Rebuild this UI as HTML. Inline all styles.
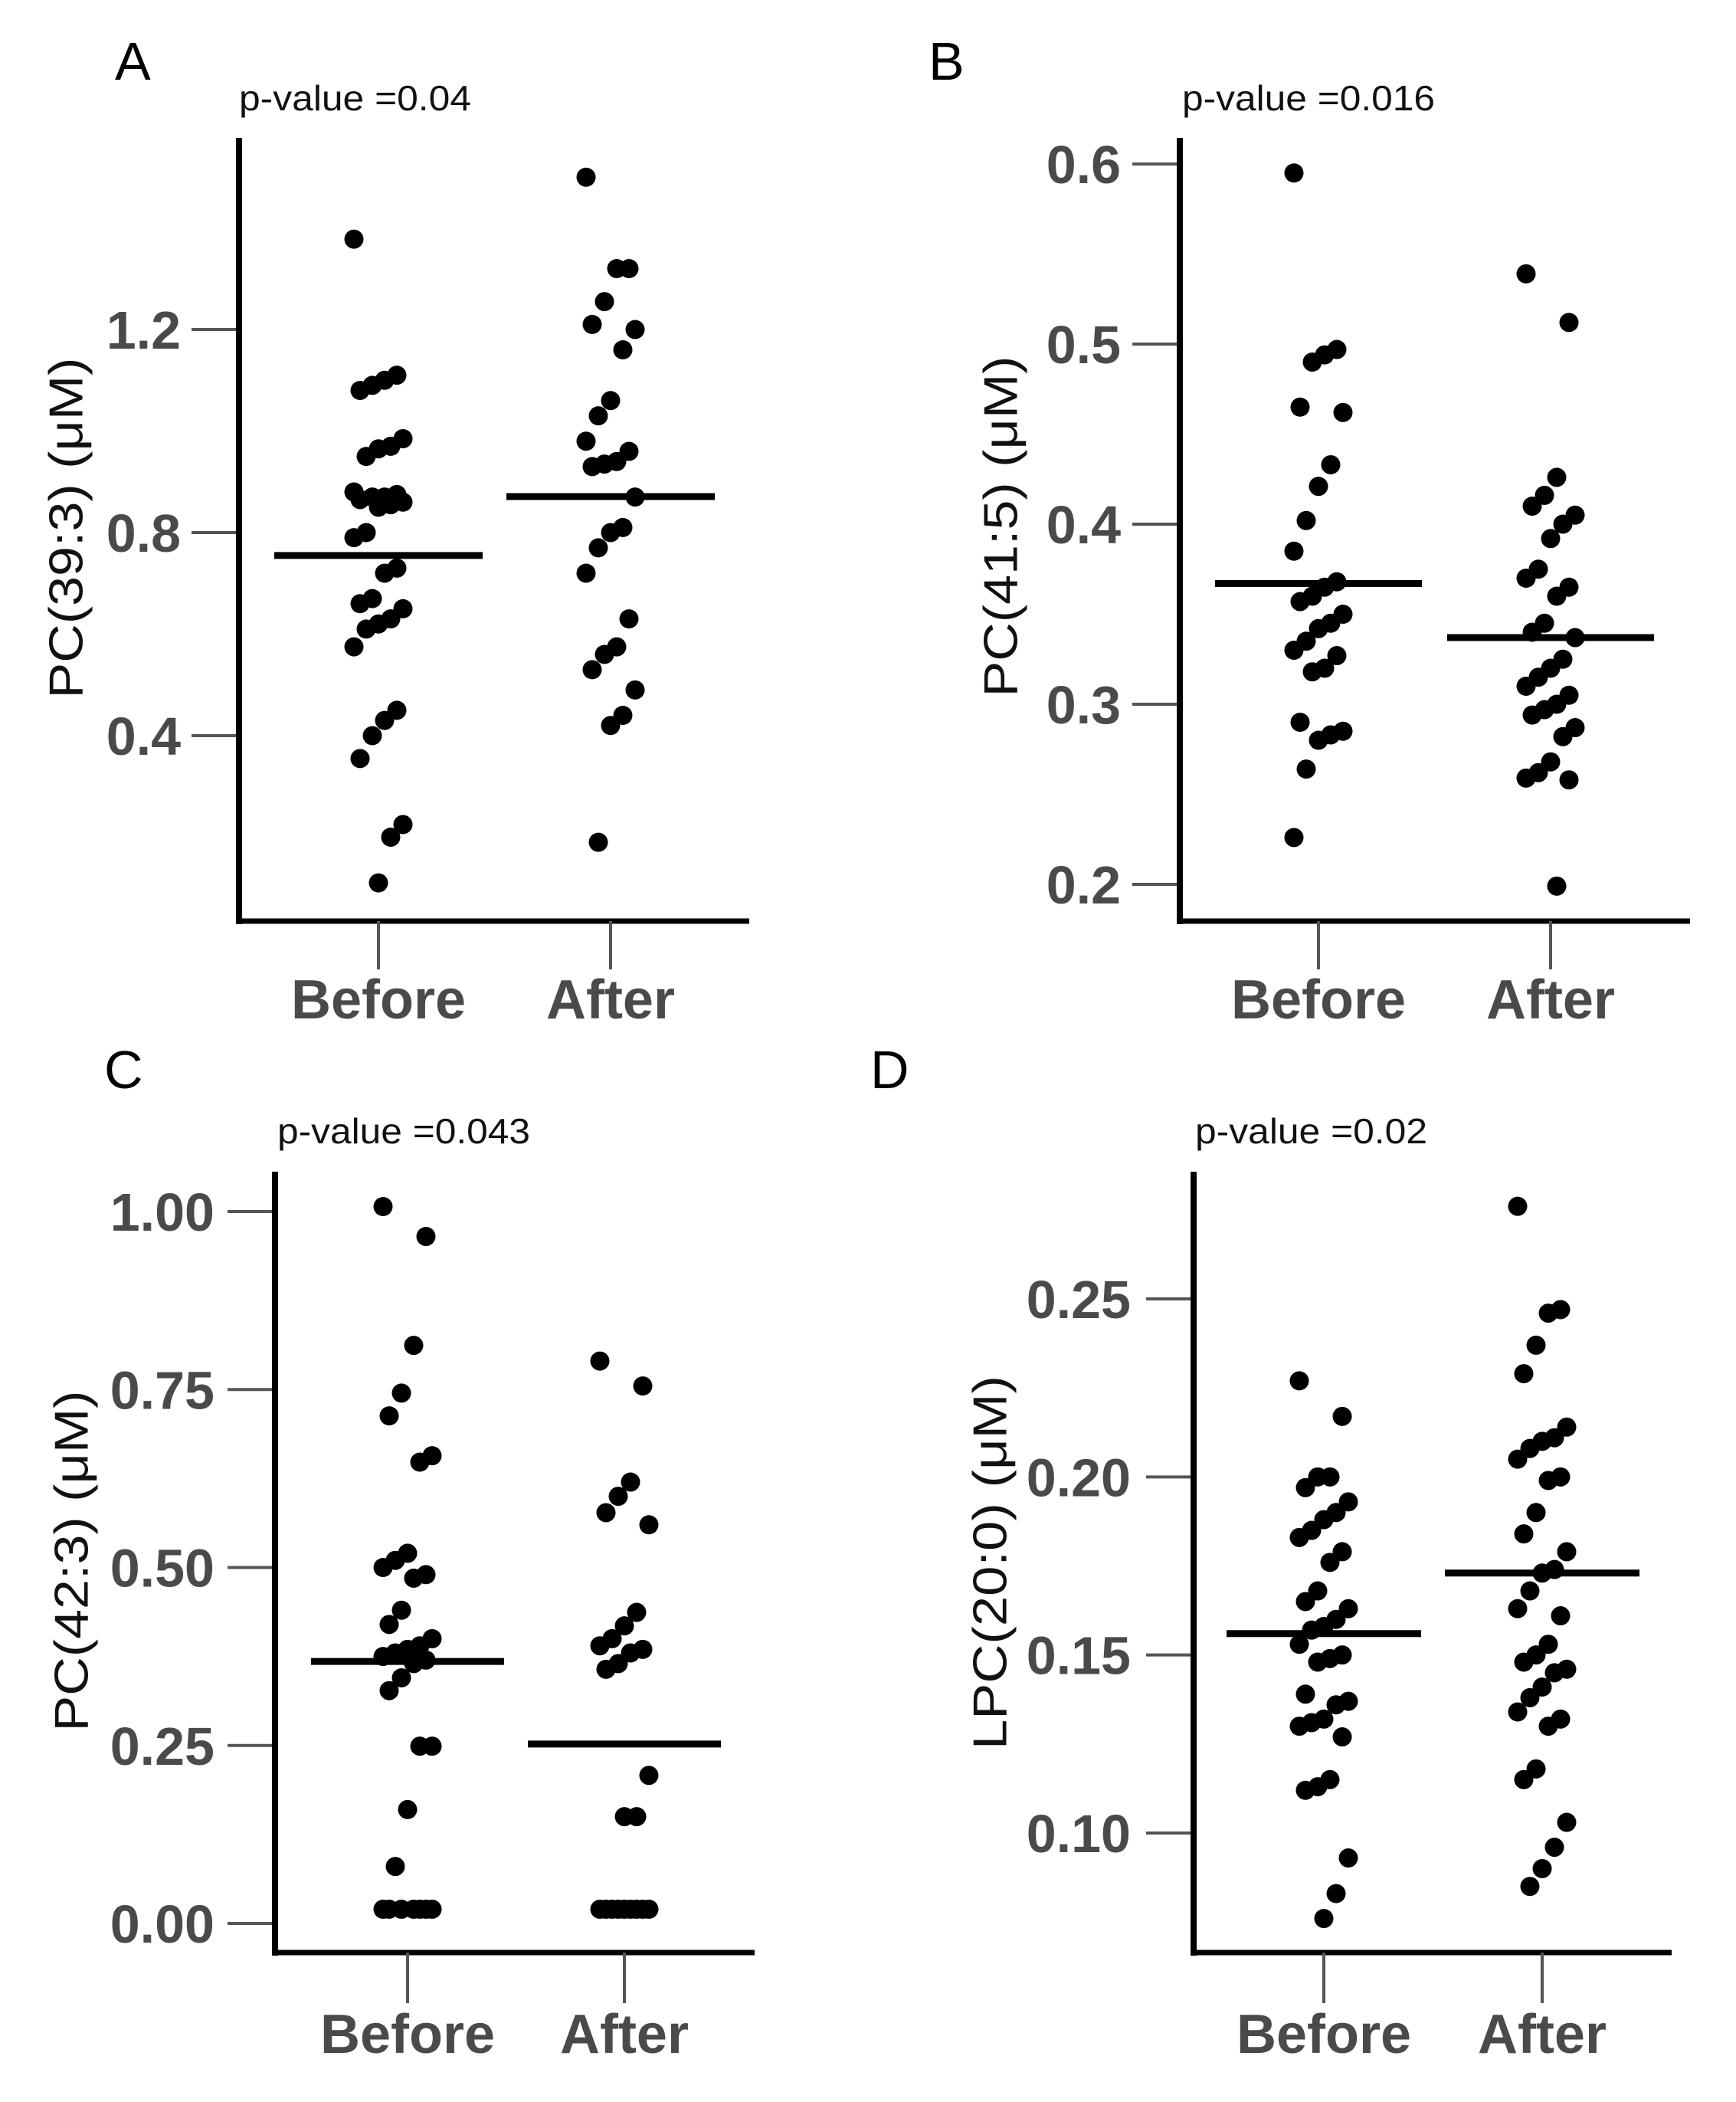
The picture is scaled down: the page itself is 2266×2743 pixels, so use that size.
<!DOCTYPE html>
<html>
<head>
<meta charset="utf-8">
<style>
  html,body{margin:0;padding:0;background:#fff;}
  svg{display:block;}
  text{font-family:"Liberation Sans",Arial,sans-serif;}
</style>
</head>
<body>
<svg id="fig" xmlns="http://www.w3.org/2000/svg" width="2266" height="2743" viewBox="0 0 2266 2743"></svg>
<script>
// ---- data ----
const categories = ["Before", "After"];
const aTicks = ["0.4", "0.8", "1.2"];
const aBefore = [1.378,1.11,1.10,1.09,1.08,0.985,0.97,0.965,0.95,0.88,0.875,0.87,0.87,0.865,0.86,0.855,0.85,0.80,0.79,0.73,0.72,0.67,0.66,0.65,0.63,0.62,0.61,0.575,0.45,0.43,0.40,0.355,0.225,0.20,0.11];
const aAfter = [1.50,1.32,1.32,1.255,1.21,1.20,1.16,1.06,1.03,0.98,0.96,0.94,0.935,0.93,0.87,0.81,0.80,0.77,0.72,0.63,0.575,0.56,0.53,0.49,0.44,0.42,0.19];
const aMeans = [0.755, 0.871];

const bTicks = ["0.2", "0.3", "0.4", "0.5", "0.6"];
const bBefore = [0.595,0.497,0.494,0.49,0.465,0.462,0.433,0.421,0.402,0.385,0.368,0.365,0.36,0.357,0.35,0.345,0.342,0.335,0.33,0.327,0.32,0.318,0.29,0.285,0.283,0.28,0.264,0.226];
const bAfter = [0.539,0.512,0.426,0.416,0.41,0.405,0.40,0.392,0.375,0.37,0.365,0.36,0.345,0.34,0.337,0.325,0.32,0.315,0.31,0.305,0.30,0.297,0.294,0.287,0.282,0.268,0.262,0.259,0.258,0.199];
const bMeans = [0.367, 0.337];

const cTicks = ["0.00", "0.25", "0.50", "0.75", "1.00"];
const cBefore = [1.007,0.965,0.812,0.745,0.713,0.657,0.648,0.52,0.51,0.50,0.49,0.485,0.44,0.42,0.40,0.39,0.385,0.38,0.375,0.37,0.365,0.345,0.327,0.249,0.249,0.16,0.08,0.02,0.02,0.02,0.02,0.02,0.02,0.02];
const cAfter = [0.79,0.755,0.62,0.60,0.577,0.56,0.437,0.418,0.40,0.39,0.385,0.38,0.365,0.357,0.208,0.15,0.15,0.02,0.02,0.02,0.02,0.02,0.02,0.02,0.02,0.02];
const cMeans = [0.368, 0.252];

const dTicks = ["0.10", "0.15", "0.20", "0.25"];
const dBefore = [0.227,0.217,0.2,0.2,0.197,0.193,0.19,0.188,0.185,0.183,0.179,0.176,0.168,0.165,0.163,0.16,0.158,0.157,0.153,0.15,0.149,0.148,0.139,0.137,0.136,0.132,0.131,0.13,0.127,0.115,0.113,0.112,0.093,0.083,0.076];
const dAfter = [0.276,0.247,0.246,0.237,0.229,0.214,0.211,0.21,0.208,0.205,0.2,0.199,0.19,0.184,0.179,0.174,0.173,0.168,0.163,0.161,0.153,0.15,0.148,0.146,0.145,0.141,0.138,0.134,0.132,0.13,0.118,0.115,0.103,0.096,0.09,0.085];
const dMeans = [0.156, 0.173];

// ---- layout ----
const NS = "http://www.w3.org/2000/svg";
const svg = document.getElementById("fig");
function mk(tag, attrs, parent) {
  const e = document.createElementNS(NS, tag);
  for (const k in attrs) e.setAttribute(k, attrs[k]);
  (parent || svg).appendChild(e);
  return e;
}

const panels = [
  {id:"a", letter:"A", ticks:aTicks, series:[aBefore,aAfter], means:aMeans, title:"PC(39:3) (\u03bcM)", p:"p-value =0.04",
   ax:312, top:180, bottom:1202, right:978, v0:0.4, y0:960, v1:1.2, y1:430, cx:[494,797], half:136,
   tlx:236, tx:87, ty:689, tlen:445, px:312, py:144, plen:303, lx:150, ly:104, lb:1329, tb:1265},
  {id:"b", letter:"B", ticks:bTicks, series:[bBefore,bAfter], means:bMeans, title:"PC(41:5) (\u03bcM)", p:"p-value =0.016",
   ax:1540, top:180, bottom:1202, right:2206, v0:0.2, y0:1154, v1:0.6, y1:214, cx:[1721,2024], half:135,
   tlx:1463, tx:1307, ty:687, tlen:445, px:1543, py:144, plen:330, lx:1212, ly:104, lb:1329, tb:1265},
  {id:"c", letter:"C", ticks:cTicks, series:[cBefore,cAfter], means:cMeans, title:"PC(42:3) (\u03bcM)", p:"p-value =0.043",
   ax:359, top:1529, bottom:2548, right:985, v0:0, y0:2510, v1:1.0, y1:1581, cx:[532,815], half:126,
   tlx:280, tx:94, ty:2037, tlen:445, px:362, py:1492, plen:330, lx:136, ly:1420, lb:2679, tb:2614},
  {id:"d", letter:"D", ticks:dTicks, series:[dBefore,dAfter], means:dMeans, title:"LPC(20:0) (\u03bcM)", p:"p-value =0.02",
   ax:1558, top:1529, bottom:2548, right:2182, v0:0.1, y0:2392, v1:0.25, y1:1695, cx:[1728,2013], half:127,
   tlx:1476, tx:1293, ty:2039, tlen:488, px:1560, py:1492, plen:303, lx:1136, ly:1420, lb:2679, tb:2614}
];

panels.forEach(P => {
  const g = mk("g", {});
  
  
  const y = v => P.y0 + (v - P.v0) * (P.y1 - P.y0) / (P.v1 - P.v0);

  const lt = mk("text", {x:P.lx, y:P.ly, "font-size":70, fill:"#000"}, g);
  lt.textContent = P.letter;
  
  

  const pv = mk("text", {x:P.px, y:P.py, "font-size":46, fill:"#111", textLength:P.plen, lengthAdjust:"spacingAndGlyphs"}, g);
  pv.textContent = P.p;
  
  

  const tt = mk("text", {x:P.tx, y:P.ty, "font-size":62, fill:"#111", "text-anchor":"middle", "dominant-baseline":"central",
    transform:`rotate(-90 ${P.tx} ${P.ty})`, textLength:P.tlen, lengthAdjust:"spacingAndGlyphs"}, g);
  tt.textContent = P.title;
  
  

  P.ticks.forEach(t => {
    const ty = y(parseFloat(t));
    const tk = mk("line", {x1:P.ax - 62, x2:P.ax, y1:ty, y2:ty, stroke:"#555", "stroke-width":4}, g);
    
    
    const tl = mk("text", {x:P.tlx, y:ty + 25, "font-size":70, "font-weight":"bold", fill:"#4a4a4a", "text-anchor":"end"}, g);
    tl.textContent = t;
    
    
  });

  const ya = mk("line", {x1:P.ax, x2:P.ax, y1:P.top, y2:P.bottom + 4, stroke:"#000", "stroke-width":8}, g);
  
  
  const xa = mk("line", {x1:P.ax - 4, x2:P.right, y1:P.bottom, y2:P.bottom, stroke:"#000", "stroke-width":7}, g);
  
  

  categories.forEach((c, ci) => {
    const cx = P.cx[ci];
    const xt = mk("line", {x1:cx, x2:cx, y1:P.bottom, y2:P.tb, stroke:"#555", "stroke-width":4}, g);
    
    
    const xl = mk("text", {x:cx, y:P.lb, "font-size":72, "font-weight":"bold", fill:"#4a4a4a", "text-anchor":"middle"}, g);
    xl.textContent = c;
    
    

    P.series[ci].forEach((v, i) => {
      const off = (((i * 7) % 9) - 4) * 8;
      const dot = mk("circle", {cx:cx + off, cy:y(v), r:12.5, fill:"#000"}, g);
      
      
    });

    const my = y(P.means[ci]);
    const ml = mk("line", {x1:cx - P.half, x2:cx + P.half, y1:my, y2:my, stroke:"#000", "stroke-width":9}, g);
    
    
  });
});
</script>
</body>
</html>
